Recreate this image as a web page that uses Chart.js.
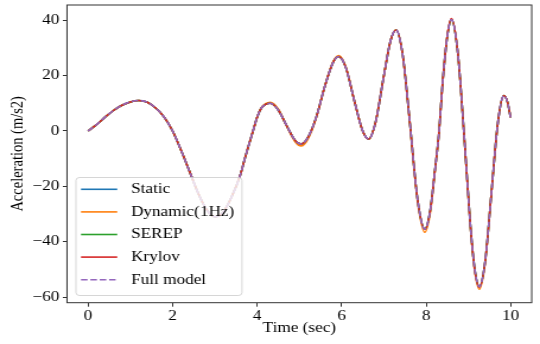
<!DOCTYPE html>
<html>
<head>
<meta charset="utf-8">
<script src="https://cdn.jsdelivr.net/npm/chart.js@4.4.0/dist/chart.umd.min.js"></script>
<style>
  html, body { margin: 0; padding: 0; background: #fff; }
</style>
</head>
<body>
<!-- drawn narrower and stretched to 540px, like the source figure -->
<canvas id="chart" width="455" height="344" style="width:540px;height:344px;display:block"></canvas>
<script>
const timeSec = [0, 0.2, 0.4, 0.6, 0.8, 1.0, 1.2, 1.4, 1.6, 1.8,
  2.0, 2.2, 2.4, 2.6, 2.8, 3.0, 3.2, 3.4, 3.6, 3.7,
  3.8, 3.9, 4.0, 4.1, 4.2, 4.31, 4.5, 4.7, 4.9, 5.04,
  5.2, 5.4, 5.6, 5.8, 5.93, 6.1, 6.3, 6.5, 6.64, 6.8,
  7.0, 7.16, 7.29, 7.45, 7.6, 7.8, 7.97, 8.1, 8.2, 8.3,
  8.4, 8.5, 8.6, 8.75, 8.9, 9.05, 9.15, 9.26, 9.4, 9.55,
  9.7, 9.84, 9.92, 10.0];

const staticAcc = [0, 2.3, 5.0, 7.4, 9.3, 10.5, 11.0, 10.4, 8.3, 5.0,
  0.0, -7.0, -14.6, -22.3, -28.3, -31.0, -29.3, -23.7, -16.0, -10.5,
  -5.2, -0.2, 5.0, 8.3, 9.6, 10.0, 7.6, 1.9, -3.4, -4.7,
  -2.4, 5.0, 16.0, 24.8, 26.9, 22.9, 11.0, 0.0, -2.9, 2.9,
  19.9, 32.7, 36.5, 27.1, 5.5, -25.0, -35.5, -28.5, -15.5, -1.5,
  19.0, 34.0, 40.3, 28.3, -1.4, -34.4, -49.8, -56.3, -46.9, -21.8,
  3.1, 12.8, 10.8, 4.9];

const dynamicAcc = [0, 2.3, 5.0, 7.4, 9.3, 10.5, 11.0, 10.4, 8.3, 5.0,
  0.0, -7.0, -14.6, -22.3, -28.3, -31.0, -29.3, -23.7, -16.0, -10.5,
  -5.2, -0.2, 5.0, 8.4, 9.9, 10.4, 8.0, 1.7, -3.9, -5.4,
  -3.0, 4.8, 16.0, 25.1, 27.3, 23.2, 11.0, -0.1, -3.0, 2.9,
  19.9, 32.7, 36.6, 27.1, 5.2, -25.6, -36.6, -29.3, -15.8, -1.5,
  19.0, 34.1, 40.5, 28.3, -1.6, -34.8, -50.4, -57.2, -47.4, -21.8,
  3.1, 12.8, 10.8, 4.9];

const serepAcc = [0, 2.3, 5.0, 7.4, 9.3, 10.5, 11.0, 10.4, 8.3, 5.0,
  0.0, -7.0, -14.6, -22.3, -28.3, -31.0, -29.3, -23.7, -16.0, -10.5,
  -5.2, -0.2, 5.0, 8.3, 9.6, 10.0, 7.6, 1.9, -3.4, -4.7,
  -2.4, 5.0, 16.0, 24.8, 26.9, 22.9, 11.0, 0.0, -2.9, 2.9,
  19.9, 32.7, 36.5, 27.1, 5.5, -25.0, -35.5, -28.5, -15.5, -1.5,
  19.0, 34.0, 40.3, 28.3, -1.4, -34.4, -49.8, -56.3, -46.9, -21.8,
  3.1, 12.8, 10.8, 4.9];

const krylovAcc = [0, 2.3, 5.0, 7.4, 9.3, 10.5, 11.0, 10.4, 8.3, 5.0,
  0.0, -7.0, -14.6, -22.3, -28.3, -31.0, -29.3, -23.7, -16.0, -10.5,
  -5.2, -0.2, 5.0, 8.3, 9.6, 10.0, 7.6, 1.9, -3.4, -4.7,
  -2.4, 5.0, 16.0, 24.8, 26.9, 22.9, 11.0, 0.0, -2.9, 2.9,
  19.9, 32.7, 36.5, 27.1, 5.5, -25.0, -35.5, -28.5, -15.5, -1.5,
  19.0, 34.2, 40.6, 28.4, -1.4, -34.4, -49.9, -56.5, -46.9, -21.8,
  3.1, 12.8, 10.8, 4.9];

const fullAcc = [0, 2.3, 5.0, 7.4, 9.3, 10.5, 11.0, 10.4, 8.3, 5.0,
  0.0, -7.0, -14.6, -22.3, -28.3, -31.0, -29.3, -23.7, -16.0, -10.5,
  -5.2, -0.2, 5.0, 8.3, 9.6, 10.0, 7.6, 1.9, -3.4, -4.7,
  -2.4, 5.0, 16.0, 24.8, 26.9, 22.9, 11.0, 0.0, -2.9, 2.9,
  19.9, 32.7, 36.5, 27.1, 5.5, -25.0, -35.5, -28.5, -15.5, -1.5,
  19.0, 34.0, 40.3, 28.3, -1.4, -34.4, -49.8, -56.3, -46.9, -21.8,
  3.1, 12.8, 10.8, 4.9];

const seriesNames = ['Static', 'Dynamic(1Hz)', 'SEREP', 'Krylov', 'Full model'];
const xTicks = [0, 2, 4, 6, 8, 10];
const yTicks = [-60, -40, -20, 0, 20, 40];

const serif = "'Liberation Serif', 'Times New Roman', Times, serif";
const fontSize = 14.5;

const toPoints = (vals) => timeSec.map((t, i) => ({ x: t, y: vals[i] }));

// later series sit on top, like matplotlib
const line = (label, vals, color, order, dash) => ({
  label,
  data: toPoints(vals),
  borderColor: color,
  backgroundColor: color,
  borderWidth: 1.6,
  borderDash: dash || [],
  pointRadius: 0,
  fill: false,
  order,
  cubicInterpolationMode: 'monotone',
});

// frame on all four sides
const frame = {
  id: 'frame',
  afterDatasetsDraw(chart) {
    const { ctx, chartArea: a } = chart;
    ctx.save();
    ctx.strokeStyle = '#333';
    ctx.lineWidth = 1;
    ctx.strokeRect(a.left, a.top, a.right - a.left, a.bottom - a.top);
    ctx.restore();
  },
};

// legend box inside the plot, lower left
const innerLegend = {
  id: 'innerLegend',
  afterDraw(chart) {
    const ctx = chart.ctx;
    const x = 64.0, y = 177.5, w = 139.9, h = 118, r = 3;
    ctx.save();
    ctx.beginPath();
    ctx.moveTo(x + r, y);
    ctx.lineTo(x + w - r, y);
    ctx.quadraticCurveTo(x + w, y, x + w, y + r);
    ctx.lineTo(x + w, y + h - r);
    ctx.quadraticCurveTo(x + w, y + h, x + w - r, y + h);
    ctx.lineTo(x + r, y + h);
    ctx.quadraticCurveTo(x, y + h, x, y + h - r);
    ctx.lineTo(x, y + r);
    ctx.quadraticCurveTo(x, y, x + r, y);
    ctx.closePath();
    ctx.fillStyle = 'rgba(255,255,255,0.8)';
    ctx.fill();
    ctx.strokeStyle = 'rgba(204,204,204,0.8)';
    ctx.lineWidth = 1;
    ctx.stroke();

    ctx.font = `${fontSize}px ${serif}`;
    ctx.textBaseline = 'middle';
    ctx.textAlign = 'left';
    chart.data.datasets.forEach((ds, i) => {
      const cy = 189.3 + i * 22.6;
      ctx.beginPath();
      ctx.setLineDash(ds.borderDash);
      ctx.strokeStyle = ds.borderColor;
      ctx.lineWidth = ds.borderWidth;
      ctx.moveTo(68.25, cy);
      ctx.lineTo(98.8, cy);
      ctx.stroke();
      ctx.setLineDash([]);
      ctx.fillStyle = '#000';
      ctx.fillText(ds.label, 110.4, cy);
    });
    ctx.restore();
  },
};

const minus = (v) => (v < 0 ? '\u2212' + Math.abs(v) : String(v));

new Chart(document.getElementById('chart'), {
  type: 'line',
  data: {
    datasets: [
      line(seriesNames[0], staticAcc, '#1f77b4', 4),
      line(seriesNames[1], dynamicAcc, '#ff7f0e', 3),
      line(seriesNames[2], serepAcc, '#2ca02c', 2),
      line(seriesNames[3], krylovAcc, '#d62728', 1),
      line(seriesNames[4], fullAcc, '#9467bd', 0, [5.5, 2.4]),
    ],
  },
  options: {
    responsive: false,
    animation: false,
    devicePixelRatio: 1,
    layout: { padding: { top: 5, right: 7, left: 0, bottom: 0 } },
    plugins: {
      legend: { display: false },
      tooltip: { enabled: false },
    },
    scales: {
      x: {
        type: 'linear',
        min: -0.5,
        max: 10.5,
        afterBuildTicks: (axis) => { axis.ticks = xTicks.map((v) => ({ value: v })); },
        afterFit: (axis) => { axis.height = 41.3; axis.paddingLeft = 0; axis.paddingRight = 0; },
        border: { display: false },
        grid: { drawOnChartArea: false, drawTicks: true, tickLength: 4, color: '#333', lineWidth: 1 },
        ticks: {
          autoSkip: false,
          maxRotation: 0,
          padding: 1,
          color: '#000',
          font: { family: serif, size: fontSize },
          callback: (v) => minus(v),
        },
        title: {
          display: true,
          text: 'Time (sec)',
          color: '#000',
          font: { family: serif, size: fontSize },
          padding: { top: 0, bottom: 6.8 },
        },
      },
      y: {
        min: -62.06,
        max: 45.53,
        afterBuildTicks: (axis) => { axis.ticks = yTicks.map((v) => ({ value: v })); },
        afterFit: (axis) => { axis.width = 56.45; axis.paddingTop = 0; axis.paddingBottom = 0; },
        border: { display: false },
        grid: { drawOnChartArea: false, drawTicks: true, tickLength: 3.5, color: '#333', lineWidth: 1 },
        ticks: {
          padding: 3,
          color: '#000',
          font: { family: serif, size: fontSize },
          callback: (v) => minus(v),
        },
        title: {
          display: true,
          text: 'Acceleration (m/s2)',
          color: '#000',
          font: { family: serif, size: fontSize },
          padding: { top: 6.05, bottom: 0 },
        },
      },
    },
  },
  plugins: [frame, innerLegend],
});
</script>
</body>
</html>
